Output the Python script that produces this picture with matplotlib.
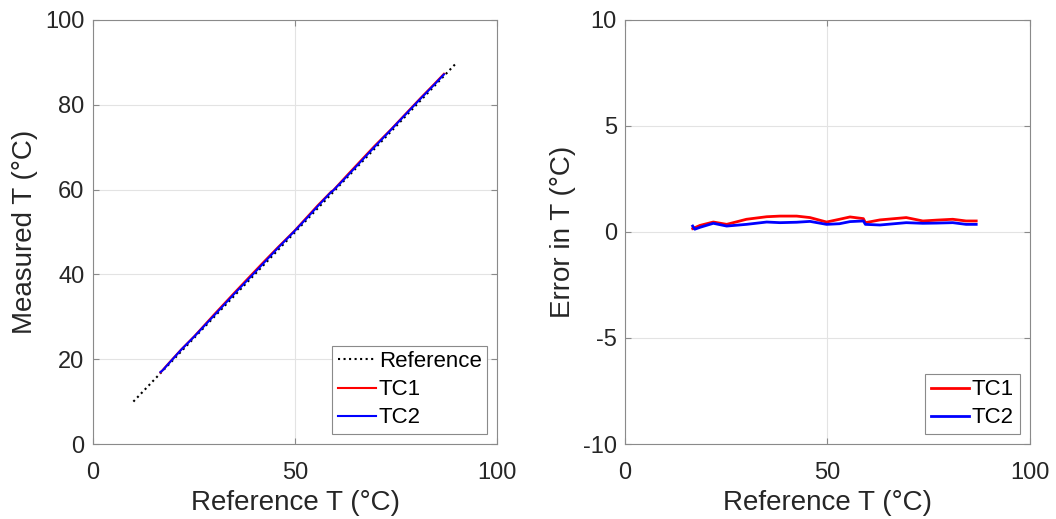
import matplotlib.pyplot as plt

plt.rcParams['font.family'] = ['Liberation Sans', 'DejaVu Sans']
plt.rcParams['axes.unicode_minus'] = False

# Reference temperatures for the dotted identity line
ref_line = [10, 90]

# Reference T where the thermocouples were sampled (°C)
ref_T = [16.7, 17.2, 18.5, 21.8, 25.1, 30, 35, 38.3, 42.4, 45.7, 49.8,
         53, 55.6, 58.9, 59.4, 63, 69.5, 73.6, 77, 81, 84.3, 86.8]
# Error of each thermocouple (°C)
err_tc1 = [0.16, 0.20, 0.31, 0.47, 0.36, 0.60, 0.72, 0.75, 0.75, 0.68, 0.47,
           0.60, 0.71, 0.63, 0.44, 0.57, 0.68, 0.52, 0.56, 0.60, 0.52, 0.52]
err_tc2 = [0.28, 0.13, 0.22, 0.41, 0.28, 0.36, 0.47, 0.44, 0.46, 0.50, 0.36,
           0.39, 0.49, 0.52, 0.36, 0.33, 0.44, 0.41, 0.42, 0.44, 0.36, 0.36]

meas_tc1 = [r + e for r, e in zip(ref_T, err_tc1)]
meas_tc2 = [r + e for r, e in zip(ref_T, err_tc2)]

fig = plt.figure(figsize=(10.56, 5.19), dpi=100)
ax1 = fig.add_axes([0.088, 0.1445, 0.383, 0.817])
ax2 = fig.add_axes([0.592, 0.1445, 0.383, 0.817])

ax1.plot(ref_line, ref_line, ':', color='black', lw=1.5, label='Reference')
ax1.plot(ref_T, meas_tc1, color='#ff0000', lw=1.5, label='TC1')
ax1.plot(ref_T, meas_tc2, color='#0000ff', lw=1.5, label='TC2')
ax1.set_xlim(0, 100)
ax1.set_ylim(0, 100)
ax1.set_xticks([0, 50, 100])
ax1.set_yticks([0, 20, 40, 60, 80, 100])
ax1.set_xlabel('Reference T (°C)')
ax1.set_ylabel('Measured T (°C)')

ax2.plot(ref_T, err_tc1, color='#ff0000', lw=2, label='TC1')
ax2.plot(ref_T, err_tc2, color='#0000ff', lw=2, label='TC2')
ax2.set_xlim(0, 100)
ax2.set_ylim(-10, 10)
ax2.set_xticks([0, 50, 100])
ax2.set_yticks([-10, -5, 0, 5, 10])
ax2.set_xlabel('Reference T (°C)')
ax2.set_ylabel('Error in T (°C)')

for ax in (ax1, ax2):
    ax.grid(True, color='#e3e3e3', lw=0.8)
    ax.set_axisbelow(True)
    for s in ax.spines.values():
        s.set_color('#8a8a8a')
    ax.tick_params(direction='in', length=4, colors='#8a8a8a', labelcolor='#262626',
                   labelsize=17, top=True, right=True)
    ax.tick_params(axis='x', pad=13)
    ax.tick_params(axis='y', pad=6)
    ax.xaxis.label.set_size(20)
    ax.yaxis.label.set_size(20)
    ax.xaxis.labelpad = 4
    ax.yaxis.labelpad = 5
    ax.xaxis.label.set_color('#262626')
    ax.yaxis.label.set_color('#262626')
    leg = ax.legend(loc='lower right', fontsize=16, fancybox=False, framealpha=1,
                    handlelength=1.7, handletextpad=0.15, borderpad=0.25, labelspacing=0.32,
                    borderaxespad=0.45)
    leg.get_frame().set_edgecolor('#8a8a8a')
    leg.get_frame().set_linewidth(0.8)

fig.savefig('out.png', dpi=100)
